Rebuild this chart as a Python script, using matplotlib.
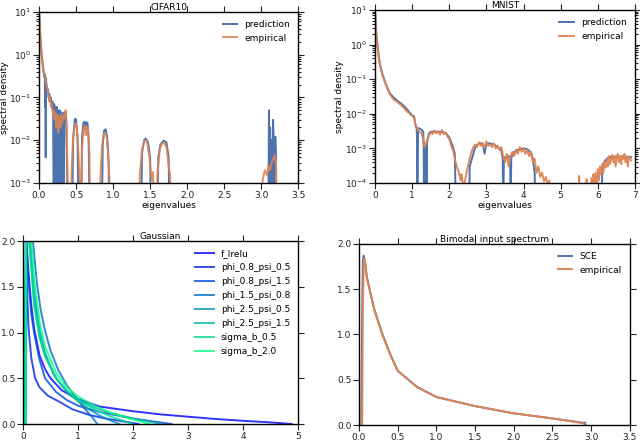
import matplotlib
matplotlib.use("Agg")
import matplotlib.pyplot as plt

# ---------------- data ----------------
BLUE = "#4C72B0"
ORANGE = "#DD8452"
LOW = 1e-5  # values below the visible range

# CIFAR10 prediction
cifar_pred_x = [0.000, 0.005, 0.010, 0.020, 0.030, 0.040, 0.050, 0.060, 0.070, 0.078, 0.082, 0.086, 0.090, 0.094,
                0.100, 0.110, 0.120, 0.130, 0.140, 0.150, 0.160, 0.170, 0.180, 0.190, 0.200, 0.205, 0.210, 0.215,
                0.220, 0.225, 0.230, 0.235, 0.240, 0.245, 0.250, 0.255, 0.260, 0.265, 0.270, 0.275, 0.280, 0.285,
                0.290, 0.295, 0.300, 0.305, 0.310, 0.315, 0.320, 0.325, 0.330, 0.335, 0.340, 0.350, 0.360, 0.370,
                0.380, 0.390,
                0.44, 0.46, 0.48, 0.49, 0.50, 0.52, 0.54,
                0.56, 0.58, 0.60, 0.615, 0.625, 0.64, 0.655, 0.67, 0.69,
                0.84, 0.86, 0.88, 0.90, 0.92, 0.94, 0.95,
                1.37, 1.39, 1.42, 1.44, 1.47, 1.50, 1.52,
                1.59, 1.61, 1.64, 1.68, 1.72, 1.75, 1.77,
                3.09, 3.10, 3.105, 3.11, 3.12, 3.13, 3.14, 3.15, 3.16, 3.17, 3.18, 3.19, 3.20, 3.21]
cifar_pred_y = [10, 7, 4, 2, 1.2, 0.8, 0.55, 0.4, 0.3, 0.35, 0.06, 0.3, 0.004, 0.25,
                0.2, 0.17, 0.15, 0.1, 0.12, 0.08, 0.1, 0.06, 0.08, 0.05, LOW, 0.07, LOW, 0.06,
                0.02, LOW, 0.05, LOW, 0.06, 0.01, LOW, 0.05, LOW, 0.045, 0.008, LOW, 0.05, LOW,
                0.04, LOW, 0.045, 0.005, LOW, 0.04, LOW, 0.035, 0.01, LOW, 0.045, 0.04, 0.045, 0.02,
                0.0015, LOW,
                LOW, 0.01, 0.028, 0.032, 0.03, 0.012, LOW,
                LOW, 0.012, 0.026, 0.027, 0.018, 0.026, 0.025, 0.01, LOW,
                LOW, 0.008, 0.017, 0.018, 0.012, 0.003, LOW,
                LOW, 0.005, 0.010, 0.011, 0.009, 0.004, LOW,
                LOW, 0.004, 0.008, 0.0097, 0.009, 0.004, LOW,
                LOW, 0.002, 0.05, LOW, 0.02, 0.003, 0.01, LOW, 0.03, 0.008, LOW, 0.012, 0.003, LOW]

# CIFAR10 empirical
cifar_emp_x = [0.0, 0.01, 0.02, 0.03, 0.04, 0.05, 0.06, 0.07, 0.08, 0.09, 0.1, 0.11, 0.12, 0.13, 0.14, 0.15,
               0.16, 0.17, 0.18, 0.19, 0.2, 0.21, 0.22, 0.23, 0.24, 0.25, 0.26, 0.27, 0.28, 0.29, 0.3, 0.31,
               0.32, 0.33, 0.34, 0.35, 0.36, 0.37, 0.38, 0.39, 0.4,
               0.42, 0.44, 0.46, 0.48, 0.49, 0.50, 0.51, 0.53, 0.55, 0.57,
               0.58, 0.60, 0.62, 0.63, 0.64, 0.66, 0.68, 0.70,
               0.81, 0.83, 0.85, 0.87, 0.89, 0.91, 0.93, 0.95, 0.97,
               1.33, 1.36, 1.39, 1.42, 1.44, 1.46, 1.49, 1.52, 1.54, 1.56,
               1.58, 1.60, 1.63, 1.66, 1.69, 1.72, 1.75, 1.77, 1.79,
               3.00, 3.02, 3.05, 3.08, 3.10, 3.12, 3.14, 3.16, 3.18, 3.20, 3.21]
cifar_emp_y = [10, 5, 2.5, 1.4, 0.9, 0.6, 0.45, 0.32, 0.28, 0.22, 0.2, 0.16, 0.13, 0.11, 0.08, 0.1,
               0.06, 0.07, 0.05, 0.04, 0.05, 0.03, 0.045, 0.02, 0.035, 0.04, 0.015, 0.035, 0.03, 0.02, 0.04, 0.025,
               0.035, 0.03, 0.04, 0.035, 0.05, 0.03, 0.004, 0.0006, LOW,
               LOW, 0.002, 0.012, 0.022, 0.025, 0.024, 0.018, 0.006, 0.0012, LOW,
               0.006, 0.018, 0.022, 0.013, 0.021, 0.018, 0.005, LOW,
               LOW, 0.0015, 0.007, 0.013, 0.015, 0.013, 0.006, 0.0012, LOW,
               LOW, 0.0015, 0.006, 0.0095, 0.0098, 0.009, 0.004, 0.0012, 0.0018, LOW,
               LOW, 0.0018, 0.006, 0.0085, 0.0085, 0.007, 0.0025, 0.0015, LOW,
               LOW, 0.0012, 0.002, 0.0015, 0.0025, 0.002, 0.003, 0.0035, 0.0045, 0.003, LOW]

# MNIST prediction
mnist_pred_x = [0, 0.02, 0.05, 0.1, 0.15, 0.2, 0.3, 0.4, 0.5, 0.6, 0.7, 0.8, 0.9, 1.0, 1.05, 1.1, 1.12, 1.13,
                1.14, 1.16, 1.2, 1.25, 1.3, 1.31, 1.32, 1.35, 1.38, 1.39, 1.4, 1.45, 1.5, 1.6, 1.7, 1.8, 1.9,
                2.0, 2.1, 2.15, 2.18, 2.2, 2.5, 2.53, 2.55, 2.6, 2.7, 2.8, 2.9, 2.95, 3.0, 3.1, 3.2, 3.3, 3.4,
                3.44, 3.45, 3.47, 3.5, 3.6, 3.64, 3.65, 3.67, 3.7, 3.8, 3.9, 4.0, 4.1, 4.2, 4.25, 4.3, 4.32,
                6.1, 6.12, 6.15, 6.2, 6.3, 6.4, 6.5, 6.6, 6.7, 6.8, 6.9]
mnist_pred_y = [10, 3.3, 1.4, 0.45, 0.22, 0.14, 0.068, 0.039, 0.03, 0.024, 0.02, 0.016, 0.012, 0.009, 0.0085,
                0.0042, 0.004, 0.002, LOW, 0.0038, 0.0038, 0.0035, 0.003, 0.001, LOW, 0.0012, 0.0012, LOW,
                0.0015, 0.0027, 0.003, 0.0031, 0.003, 0.003, 0.0028, 0.0021, 0.0011, 0.0007, LOW, LOW,
                LOW, LOW, 0.0003, 0.00046, 0.0011, 0.0014, 0.0014, 0.0007, 0.0014, 0.0014, 0.0013, 0.0011,
                0.0009, 0.0005, LOW, 0.0004, 0.00056, 0.0006, 0.0004, LOW, 0.0005, 0.0007, 0.00089, 0.00095,
                0.001, 0.00095, 0.00077, 0.0005, 0.0002, LOW,
                LOW, 0.0002, 0.00036, 0.00045, 0.00056, 0.00058, 0.00058, 0.00058, 0.00057, 0.00057, 0.00056]

# MNIST empirical
mnist_emp_x = [0, 0.02, 0.05, 0.1, 0.15, 0.2, 0.3, 0.4, 0.5, 0.6, 0.7, 0.8, 0.85, 0.9, 0.95, 1.0, 1.05,
               1.1, 1.15, 1.2, 1.25, 1.3, 1.33, 1.36, 1.4, 1.45, 1.5, 1.55, 1.6, 1.65, 1.7, 1.75, 1.8, 1.85,
               1.9, 1.95, 2.0, 2.05, 2.1, 2.15, 2.2, 2.25, 2.3, 2.33, 2.36, 2.4, 2.45, 2.5, 2.55, 2.6, 2.65,
               2.7, 2.75, 2.8, 2.85, 2.9, 2.95, 3.0, 3.05, 3.1, 3.15, 3.2, 3.25, 3.3, 3.35, 3.4, 3.45, 3.5,
               3.55, 3.6, 3.65, 3.7, 3.75, 3.8, 3.85, 3.9, 3.95, 4.0, 4.05, 4.1, 4.15, 4.2, 4.25, 4.3, 4.35,
               4.4, 4.45, 4.5, 4.55, 4.6, 4.65, 4.7, 4.72,
               5.48, 5.5, 5.52, 5.68, 5.7, 5.72, 5.8, 5.83, 5.86, 5.88, 5.91, 5.94, 5.97, 6.0, 6.03, 6.06,
               6.09, 6.12, 6.15, 6.18, 6.21, 6.24, 6.27, 6.3, 6.33, 6.36, 6.39, 6.42, 6.45, 6.48, 6.51, 6.54,
               6.57, 6.6, 6.63, 6.66, 6.69, 6.72, 6.75, 6.78, 6.81, 6.84, 6.87, 6.9]
mnist_emp_y = [10, 3.0, 1.3, 0.42, 0.21, 0.13, 0.065, 0.037, 0.026, 0.022, 0.018, 0.014, 0.012, 0.011,
               0.0095, 0.009, 0.0075, 0.0045, 0.0035, 0.003, 0.0028, 0.0018, 0.0011, 0.0013, 0.0017,
               0.0024, 0.0029, 0.0026, 0.0033, 0.0027, 0.0031, 0.0025, 0.0034, 0.0026, 0.0029, 0.0022,
               0.0019, 0.0012, 0.0009, 0.0005, 0.0003, 0.00022, 0.00012, 0.00018, 0.0001, 0.00009,
               0.00016, 0.0003, 0.0005, 0.0008, 0.0011, 0.0013, 0.0011, 0.0015, 0.0012, 0.0014, 0.001,
               0.0016, 0.0012, 0.0013, 0.0011, 0.0014, 0.0010, 0.0012, 0.0009, 0.0011, 0.0006, 0.0004,
               0.0007, 0.0003, 0.0006, 0.0008, 0.0006, 0.0009, 0.0007, 0.0011, 0.0008, 0.001, 0.0007,
               0.0009, 0.0006, 0.0008, 0.0004, 0.0005, 0.0002, 0.0003, 0.00015, 0.0002, 0.00011, 0.00015,
               0.00009, 0.00012, LOW,
               LOW, 0.00016, LOW, LOW, 0.00013, LOW, LOW, 0.00014, LOW, 0.00018, LOW, 0.0002, LOW, 0.00025,
               0.00012, 0.0003, 0.00018, 0.00035, 0.0002, 0.0004, 0.00028, 0.0005, 0.0003, 0.0006, 0.00035,
               0.0005, 0.00065, 0.0004, 0.0006, 0.0003, 0.00055, 0.0007, 0.0004, 0.0006, 0.00035, 0.00062,
               0.0005, 0.0007, 0.0004, 0.00058, 0.0003, 0.0006, 0.0005, 0.00045]

# Gaussian panel
gauss_labels = ["f_lrelu", "phi_0.8_psi_0.5", "phi_0.8_psi_1.5", "phi_1.5_psi_0.8",
                "phi_2.5_psi_0.5", "phi_2.5_psi_1.5", "sigma_b_0.5", "sigma_b_2.0"]
gauss_x = [
    [0.02, 0.06, 0.1, 0.15, 0.2, 0.3, 0.4, 0.5, 0.7, 1.0, 1.4, 2.0, 2.5, 3.0, 3.5, 4.0, 4.5, 4.88],
    [0.03, 0.05, 0.07, 0.1, 0.15, 0.22, 0.3, 0.45, 0.67, 0.9, 1.2, 1.5, 1.8, 2.0, 2.1],
    [0.03, 0.06, 0.1, 0.15, 0.2, 0.3, 0.4, 0.6, 0.8, 1.0, 1.4, 2.0, 2.4, 2.7],
    [0.05, 0.07, 0.18, 0.25, 0.32, 0.4, 0.5, 0.64, 0.8, 0.95, 1.1, 1.25, 1.35],
    [0.04, 0.06, 0.13, 0.2, 0.3, 0.4, 0.55, 0.7, 0.85, 1.0, 1.2, 1.4, 1.6, 1.75],
    [0.04, 0.06, 0.12, 0.2, 0.3, 0.4, 0.6, 0.8, 1.0, 1.3, 1.6, 2.0, 2.3, 2.5],
    [0.04, 0.06, 0.11, 0.2, 0.3, 0.4, 0.6, 0.8, 1.0, 1.3, 1.6, 1.85, 2.0],
    [0.04, 0.06, 0.15, 0.2, 0.3, 0.4, 0.6, 0.8, 1.0, 1.3, 1.6, 2.0, 2.3],
]
gauss_y = [
    [0.0, 2.0, 1.65, 1.3, 1.05, 0.75, 0.6, 0.5, 0.37, 0.27, 0.19, 0.14, 0.105, 0.08, 0.055, 0.035, 0.018, 0.0],
    [0.0, 2.0, 1.5, 1.05, 0.72, 0.5, 0.4, 0.31, 0.24, 0.16, 0.1, 0.06, 0.03, 0.012, 0.0],
    [0.0, 2.0, 1.55, 1.2, 1.0, 0.7, 0.5, 0.35, 0.26, 0.2, 0.13, 0.06, 0.025, 0.0],
    [0.0, 3.0, 2.0, 1.55, 1.25, 1.02, 0.8, 0.59, 0.42, 0.3, 0.18, 0.08, 0.0],
    [0.0, 3.0, 2.0, 1.45, 1.02, 0.78, 0.55, 0.42, 0.32, 0.25, 0.16, 0.09, 0.035, 0.0],
    [0.0, 3.0, 2.0, 1.35, 0.95, 0.75, 0.5, 0.36, 0.27, 0.18, 0.12, 0.06, 0.025, 0.0],
    [0.0, 3.0, 2.0, 1.3, 0.95, 0.74, 0.5, 0.36, 0.26, 0.16, 0.08, 0.03, 0.0],
    [0.0, 3.0, 2.0, 1.6, 1.12, 0.85, 0.56, 0.4, 0.3, 0.2, 0.12, 0.05, 0.0],
]

# Bimodal panel
bim_sce_x = [0.03, 0.04, 0.05, 0.06, 0.08, 0.1, 0.15, 0.2, 0.3, 0.4, 0.5, 0.75, 1.0, 1.5, 2.0, 2.5, 2.9, 2.92, 2.93]
bim_sce_y = [0.0, 1.2, 1.82, 1.87, 1.78, 1.64, 1.45, 1.27, 1.01, 0.79, 0.6, 0.42, 0.31, 0.21, 0.13, 0.074, 0.025, 0.03, 0.0]
bim_emp_x = [0.04, 0.05, 0.06, 0.07, 0.08, 0.1, 0.15, 0.2, 0.3, 0.4, 0.5, 0.75, 1.0, 1.5, 2.0, 2.5, 2.9, 2.92]
bim_emp_y = [0.0, 1.3, 1.78, 1.84, 1.78, 1.63, 1.44, 1.26, 1.0, 0.78, 0.6, 0.42, 0.31, 0.21, 0.13, 0.074, 0.022, 0.0]

# ---------------- plotting ----------------
plt.rcParams["font.family"] = "DejaVu Sans"
FS = 6.5
plt.rcParams["font.size"] = FS

fig = plt.figure(figsize=(6.4, 4.41), dpi=100)


def style(ax):
    ax.tick_params(which="both", direction="out", top=True, right=True, labelsize=FS, width=0.8,
                   colors="#222222", pad=1.5)
    ax.tick_params(which="major", length=4)
    ax.tick_params(which="minor", length=2)
    for s in ax.spines.values():
        s.set_linewidth(1.0)
        s.set_color("black")


ax1 = fig.add_axes([0.061, 0.585, 0.405, 0.388])
ax1.plot(cifar_pred_x, cifar_pred_y, color=BLUE, lw=1.4, label="prediction")
ax1.plot(cifar_emp_x, cifar_emp_y, color=ORANGE, lw=1.4, alpha=0.9, label="empirical")
ax1.set_yscale("log")
ax1.set_ylim(1e-3, 1e1)
ax1.set_xlim(0, 3.5)
ax1.set_xlabel("eigenvalues", labelpad=1, fontsize=FS)
ax1.set_ylabel("spectral density", labelpad=0, fontsize=FS)
ax1.set_title("CIFAR10", pad=1, fontsize=FS)
ax1.legend(frameon=False, loc="upper right", fontsize=FS, handlelength=1.6)
style(ax1)

ax2 = fig.add_axes([0.586, 0.585, 0.406, 0.392])
ax2.plot(mnist_pred_x, mnist_pred_y, color=BLUE, lw=1.4, label="prediction")
ax2.plot(mnist_emp_x, mnist_emp_y, color=ORANGE, lw=1.4, alpha=0.95, label="empirical")
ax2.set_yscale("log")
ax2.set_ylim(1e-4, 1e1)
ax2.set_xlim(0, 7)
ax2.set_xlabel("eigenvalues", labelpad=1, fontsize=FS)
ax2.set_ylabel("spectral density", labelpad=1, fontsize=FS)
ax2.set_title("MNIST", pad=1, fontsize=FS)
ax2.legend(frameon=False, loc="upper right", fontsize=FS, handlelength=1.6)
style(ax2)

ax3 = fig.add_axes([0.036, 0.0385, 0.430, 0.415])
cmap = plt.get_cmap("winter")
n = len(gauss_labels)
for i, (lab, xs, ys) in enumerate(zip(gauss_labels, gauss_x, gauss_y)):
    ax3.plot(xs, ys, color=cmap(i / (n - 1)), lw=1.4, alpha=0.8, label=lab)
ax3.set_xlim(0, 5)
ax3.set_ylim(0, 2)
ax3.set_yticks([0.0, 0.5, 1.0, 1.5, 2.0])
ax3.set_title("Gaussian", pad=1, fontsize=FS)
ax3.legend(frameon=False, loc="upper right", fontsize=FS, handlelength=2.0, labelspacing=0.55)
style(ax3)

ax4 = fig.add_axes([0.561, 0.036, 0.423, 0.411])
ax4.plot(bim_sce_x, bim_sce_y, color=BLUE, lw=1.4, label="SCE")
ax4.plot(bim_emp_x, bim_emp_y, color=ORANGE, lw=1.4, label="empirical")
ax4.set_xlim(0, 3.5)
ax4.set_ylim(0, 2)
ax4.set_yticks([0.0, 0.5, 1.0, 1.5, 2.0])
ax4.set_title("Bimodal input spectrum", pad=1, fontsize=FS)
ax4.legend(frameon=False, loc="upper right", fontsize=FS, handlelength=1.6)
style(ax4)

fig.savefig("out.png", dpi=100)
